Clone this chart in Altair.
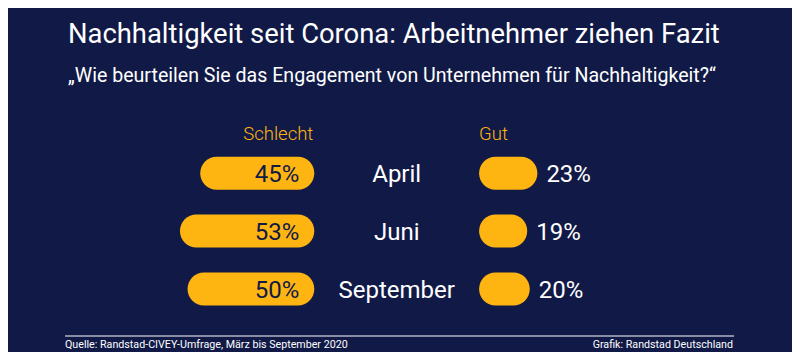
import altair as alt
import pandas as pd

# ---- data ----
months = ["April", "Juni", "September"]
schlecht = [45, 53, 50]
gut = [23, 19, 20]

title_text = "Nachhaltigkeit seit Corona: Arbeitnehmer ziehen Fazit"
subtitle_text = "„Wie beurteilen Sie das Engagement von Unternehmen für Nachhaltigkeit?“"
header_left = "Schlecht"
header_right = "Gut"
source_text = "Quelle: Randstad-CIVEY-Umfrage, März bis September 2020"
credit_text = "Grafik: Randstad Deutschland"

# ---- style ----
BG = "#111a46"
YELLOW = "#ffb511"
NAVY = "#111a46"
WHITE = "#ffffff"
FONT = "Roboto"
GAP = 65  # gap (in % units) between the two bar groups

W, H = 784, 344

df = pd.DataFrame({"month": months, "row": list(range(len(months))),
                   "schlecht": schlecht, "gut": gut})

xs = alt.Scale(domain=[-120.83, 188.44], nice=False, zero=False)
ys = alt.Scale(domain=[-2.768, 3.0034], nice=False, zero=False, reverse=True)

base = alt.Chart(df).transform_calculate(
    neg="-datum.schlecht",
    zero="0",
    gx=f"{GAP}",
    gx2=f"{GAP} + datum.gut",
    mid=f"{GAP / 2}",
    lab_s="datum.schlecht + '%'",
    lab_g="datum.gut + '%'",
)

Y = alt.Y("row:Q", scale=ys, axis=None)

left_bars = base.mark_bar(color=YELLOW, height=33, cornerRadius=16.5).encode(
    x=alt.X("neg:Q", scale=xs, axis=None), x2="zero:Q", y=Y)
right_bars = base.mark_bar(color=YELLOW, height=33, cornerRadius=16.5).encode(
    x=alt.X("gx:Q", scale=xs, axis=None), x2="gx2:Q", y=Y)

left_labels = base.mark_text(align="right", baseline="alphabetic", dx=-15, dy=9,
                             font=FONT, fontSize=24, color=NAVY).encode(
    x=alt.X("zero:Q", scale=xs, axis=None), y=Y, text="lab_s:N")
right_labels = base.mark_text(align="left", baseline="alphabetic", dx=9, dy=9,
                              font=FONT, fontSize=24, color=WHITE).encode(
    x=alt.X("gx2:Q", scale=xs, axis=None), y=Y, text="lab_g:N")
month_labels = base.mark_text(align="center", baseline="alphabetic", dy=9,
                              font=FONT, fontSize=24, color=WHITE).encode(
    x=alt.X("mid:Q", scale=xs, axis=None), y=Y, text="month:N")

hdr = pd.DataFrame({"t": [header_left, header_right], "pos": [0, GAP]})
hdr_left = alt.Chart(hdr.iloc[[0]]).mark_text(
    align="right", baseline="alphabetic", dx=-1, font=FONT, fontSize=18.5,
    fontWeight=300, color=YELLOW).encode(
    x=alt.X("pos:Q", scale=xs, axis=None), y=alt.value(132), text="t:N")
hdr_right = alt.Chart(hdr.iloc[[1]]).mark_text(
    align="left", baseline="alphabetic", font=FONT, fontSize=18.5,
    fontWeight=300, color=YELLOW).encode(
    x=alt.X("pos:Q", scale=xs, axis=None), y=alt.value(132), text="t:N")

one = pd.DataFrame({"title": [title_text], "sub": [subtitle_text],
                    "src": [source_text], "cred": [credit_text]})
title = alt.Chart(one).mark_text(align="left", baseline="alphabetic", font=FONT,
                                 fontSize=27.4, color=WHITE).encode(
    x=alt.value(60), y=alt.value(35.3), text="title:N")
subtitle = alt.Chart(one).mark_text(align="left", baseline="alphabetic", font=FONT,
                                    fontSize=19.6, color=WHITE).encode(
    x=alt.value(60), y=alt.value(73.7), text="sub:N")
rule = alt.Chart(one).mark_rule(color=WHITE, strokeWidth=1).encode(
    x=alt.value(57), x2=alt.value(726), y=alt.value(328))
src = alt.Chart(one).mark_text(align="left", baseline="alphabetic", font=FONT,
                               fontSize=10.7, color=WHITE).encode(
    x=alt.value(57), y=alt.value(340), text="src:N")
cred = alt.Chart(one).mark_text(align="right", baseline="alphabetic", font=FONT,
                                fontSize=10.7, color=WHITE).encode(
    x=alt.value(725), y=alt.value(340), text="cred:N")

chart = alt.layer(
    left_bars, right_bars, left_labels, right_labels, month_labels,
    hdr_left, hdr_right, title, subtitle, rule, src, cred,
).properties(
    width=W, height=H, autosize=alt.AutoSizeParams(type="none"), padding=0,
    background=BG,
).configure_view(stroke=None)

chart.save("out.html", embed_options={"renderer": "svg", "actions": False})
